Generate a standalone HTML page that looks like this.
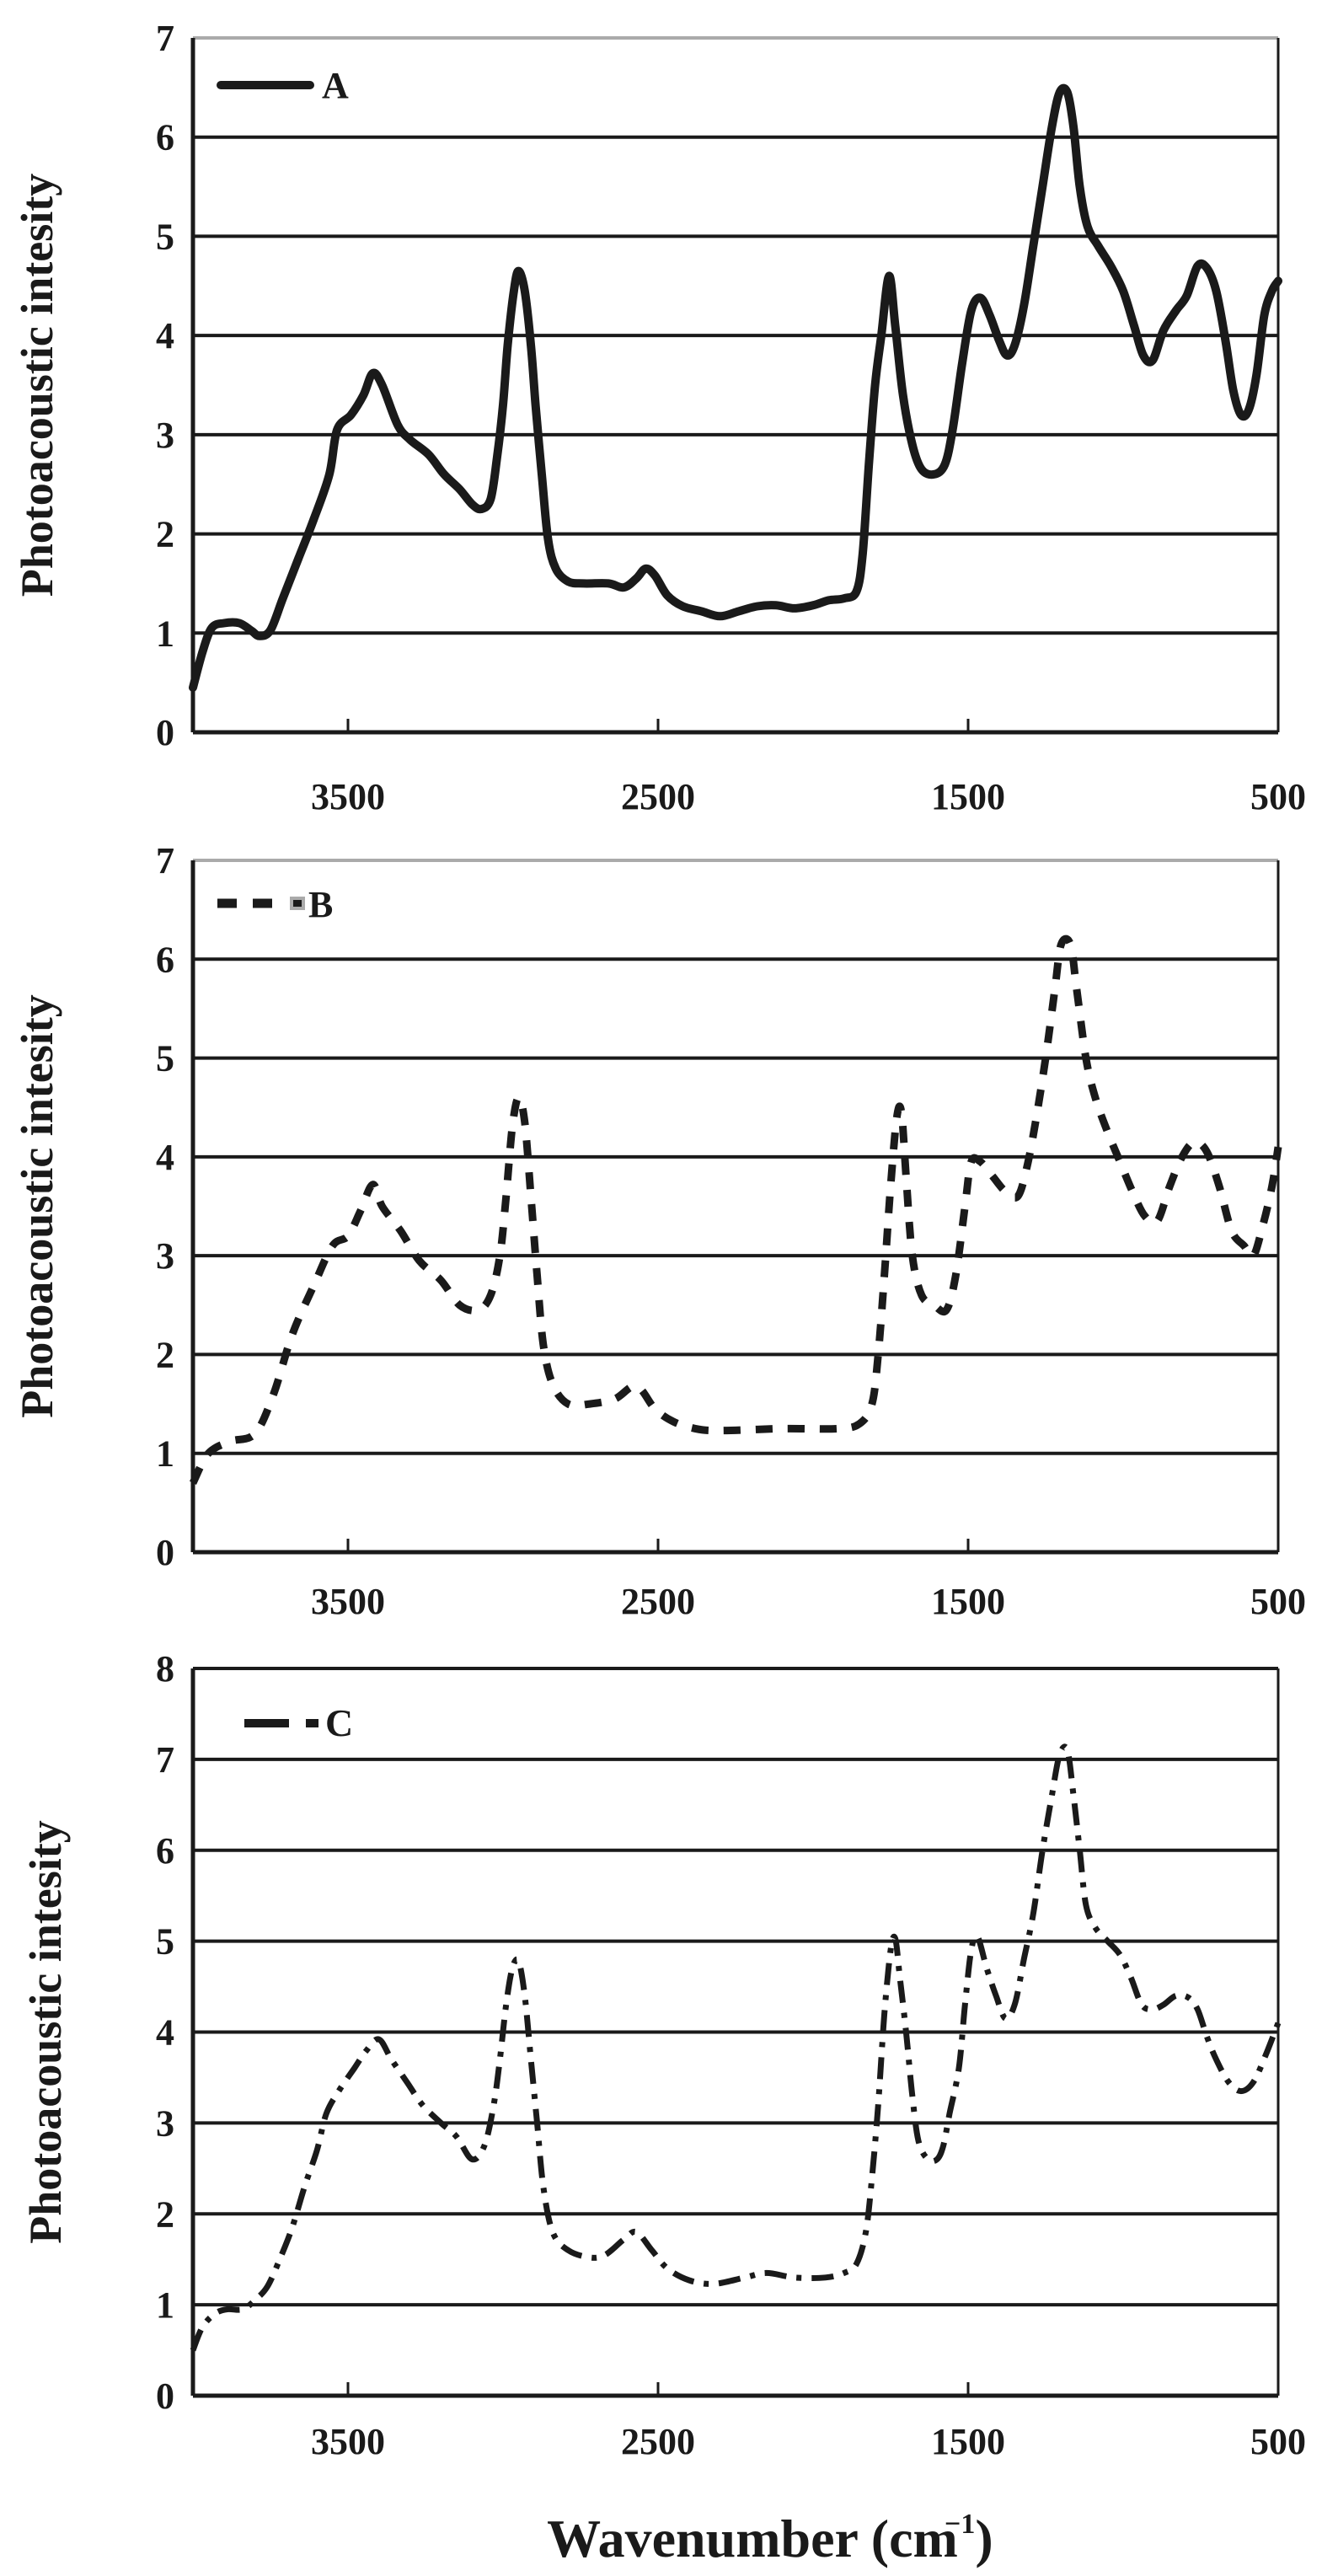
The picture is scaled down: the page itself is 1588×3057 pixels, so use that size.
<!DOCTYPE html>
<html><head><meta charset="utf-8"><style>
html,body{margin:0;padding:0;background:#fff;}
svg text{font-family:"Liberation Serif",serif;font-weight:bold;fill:#1a1a1a;}
</style></head><body>
<svg id="s" width="1588" height="3052" xmlns="http://www.w3.org/2000/svg">
<g id="g"></g>
</svg>
<script>
var NS="http://www.w3.org/2000/svg",g=document.getElementById('g');
function el(t,a,txt){var e=document.createElementNS(NS,t);for(var k in a)e.setAttribute(k,a[k]);if(txt!==undefined)e.textContent=txt;g.appendChild(e);return e;}
var L=229,R=1517;
function X(w){return L+(4000-w)/3500*(R-L);}
function path(pts,top,bot,max){
  var P=pts.map(function(p){return [X(p[0]),bot-(p[1]/max)*(bot-top)];});
  var d="M"+P[0][0].toFixed(1)+","+P[0][1].toFixed(1);
  for(var i=0;i<P.length-1;i++){
    var p0=P[i-1]||P[i],p1=P[i],p2=P[i+1],p3=P[i+2]||P[i+1];
    var c1=[p1[0]+(p2[0]-p0[0])/6,p1[1]+(p2[1]-p0[1])/6],c2=[p2[0]-(p3[0]-p1[0])/6,p2[1]-(p3[1]-p1[1])/6];
    d+=" C"+c1[0].toFixed(1)+","+c1[1].toFixed(1)+" "+c2[0].toFixed(1)+","+c2[1].toFixed(1)+" "+p2[0].toFixed(1)+","+p2[1].toFixed(1);
  }
  return d;
}
function chart(top,bot,max,ylx,lbly,topc){
  var u=(bot-top)/max;
  el('line',{x1:L,y1:top,x2:R,y2:top,stroke:topc,'stroke-width':4});
  for(var i=1;i<max;i++){var y=bot-i*u;el('line',{x1:L,y1:y,x2:R,y2:y,stroke:'#1a1a1a','stroke-width':4});}
  el('line',{x1:L,y1:top,x2:L,y2:bot,stroke:'#1a1a1a','stroke-width':5});
  el('line',{x1:L,y1:bot,x2:R,y2:bot,stroke:'#1a1a1a','stroke-width':5});
  el('line',{x1:R,y1:top,x2:R,y2:bot,stroke:'#1a1a1a','stroke-width':3});
  for(var i=0;i<=max;i++){el('text',{x:196,y:bot-i*u+15,'font-size':44,'text-anchor':'middle'},String(i));}
  [3500,2500,1500,500].forEach(function(w){var x=X(w);el('line',{x1:x,y1:bot,x2:x,y2:bot-16,stroke:'#1a1a1a','stroke-width':3});el('text',{x:x,y:lbly,'font-size':44,'text-anchor':'middle'},String(w));});
  var cy=(top+bot)/2;
  el('text',{x:ylx,y:cy,'font-size':54,'text-anchor':'middle',transform:'rotate(-90 '+ylx+' '+cy+')'},'Photoacoustic intesity');
}
var A=[[4000,0.45],[3970,0.8],[3940,1.05],[3900,1.1],[3850,1.1],[3810,1.02],[3785,0.97],[3750,1.03],[3710,1.35],[3660,1.75],[3610,2.15],[3560,2.6],[3535,3.05],[3490,3.2],[3450,3.4],[3420,3.62],[3390,3.5],[3340,3.1],[3300,2.95],[3240,2.8],[3190,2.6],[3140,2.45],[3100,2.3],[3070,2.25],[3040,2.35],[3020,2.75],[3000,3.3],[2985,3.9],[2965,4.45],[2950,4.65],[2930,4.45],[2910,3.9],[2895,3.3],[2875,2.6],[2855,1.95],[2830,1.65],[2790,1.52],[2740,1.5],[2660,1.5],[2610,1.46],[2570,1.55],[2540,1.65],[2510,1.58],[2470,1.38],[2420,1.27],[2360,1.22],[2300,1.17],[2240,1.22],[2180,1.27],[2120,1.28],[2060,1.25],[2000,1.28],[1950,1.33],[1900,1.35],[1860,1.42],[1840,1.8],[1820,2.7],[1800,3.5],[1780,4.0],[1755,4.6],[1735,4.1],[1710,3.4],[1680,2.9],[1650,2.65],[1610,2.6],[1575,2.7],[1550,3.05],[1520,3.7],[1490,4.25],[1460,4.38],[1430,4.2],[1400,3.95],[1375,3.8],[1350,3.9],[1320,4.3],[1290,4.9],[1260,5.5],[1230,6.1],[1205,6.45],[1180,6.45],[1160,6.1],[1140,5.5],[1115,5.1],[1080,4.9],[1040,4.7],[1000,4.45],[965,4.1],[935,3.8],[905,3.75],[870,4.05],[830,4.25],[795,4.4],[760,4.7],[730,4.68],[700,4.45],[670,3.95],[645,3.45],[620,3.2],[595,3.25],[570,3.6],[545,4.2],[520,4.45],[500,4.55]];
var B=[[4000,0.7],[3950,1.0],[3880,1.12],[3800,1.2],[3740,1.6],[3680,2.2],[3610,2.7],[3550,3.1],[3500,3.2],[3460,3.45],[3420,3.72],[3390,3.5],[3330,3.25],[3270,2.95],[3200,2.75],[3140,2.5],[3080,2.45],[3040,2.6],[3010,3.0],[2990,3.6],[2970,4.3],[2950,4.6],[2930,4.35],[2910,3.6],[2890,2.8],[2870,2.1],[2840,1.7],[2790,1.5],[2720,1.5],[2640,1.55],[2570,1.68],[2510,1.45],[2450,1.32],[2380,1.25],[2300,1.23],[2100,1.25],[1920,1.25],[1850,1.3],[1810,1.5],[1790,2.0],[1770,2.8],[1750,3.7],[1730,4.4],[1715,4.45],[1700,3.8],[1680,3.0],[1650,2.6],[1610,2.5],[1570,2.45],[1540,2.8],[1510,3.5],[1490,3.95],[1460,3.95],[1420,3.8],[1380,3.65],[1340,3.6],[1310,3.9],[1280,4.4],[1250,5.0],[1220,5.7],[1200,6.15],[1170,6.15],[1150,5.7],[1120,5.0],[1090,4.6],[1050,4.25],[1010,3.95],[970,3.65],[930,3.4],[890,3.35],[850,3.7],[810,4.0],[770,4.15],[730,4.05],[690,3.7],[650,3.25],[610,3.1],[580,3.0],[550,3.3],[520,3.7],[500,4.1]];
var C=[[4000,0.5],[3970,0.75],[3930,0.9],[3890,0.95],[3840,0.95],[3800,1.05],[3760,1.2],[3720,1.5],[3680,1.85],[3640,2.3],[3600,2.7],[3570,3.1],[3530,3.35],[3480,3.6],[3440,3.8],[3400,3.92],[3360,3.7],[3310,3.45],[3260,3.2],[3200,3.0],[3150,2.85],[3100,2.6],[3060,2.75],[3030,3.2],[3010,3.7],[2990,4.3],[2970,4.7],[2950,4.78],[2930,4.4],[2910,3.7],[2890,3.0],[2870,2.3],[2840,1.8],[2790,1.6],[2720,1.52],[2670,1.55],[2610,1.72],[2570,1.8],[2520,1.6],[2470,1.4],[2400,1.27],[2320,1.23],[2220,1.3],[2150,1.35],[2060,1.3],[1960,1.3],[1900,1.35],[1860,1.45],[1830,1.8],[1810,2.4],[1790,3.2],[1770,4.2],[1750,4.9],[1735,5.03],[1720,4.6],[1700,4.0],[1680,3.3],[1660,2.8],[1630,2.6],[1600,2.6],[1580,2.75],[1560,3.1],[1530,3.6],[1510,4.3],[1490,4.9],[1470,5.05],[1440,4.7],[1410,4.4],[1380,4.15],[1350,4.3],[1320,4.8],[1290,5.3],[1260,6.0],[1230,6.6],[1205,7.05],[1180,7.1],[1160,6.6],[1140,6.0],[1120,5.4],[1090,5.15],[1050,5.0],[1010,4.85],[975,4.6],[940,4.3],[905,4.25],[870,4.3],[830,4.4],[790,4.38],[760,4.25],[730,3.95],[700,3.7],[660,3.45],[620,3.35],[580,3.45],[540,3.75],[500,4.1]];
// Chart A
chart(45,869,7,62,960,'#aaa');
el('path',{d:path(A,45,869,7),fill:'none',stroke:'#1a1a1a','stroke-width':10,'stroke-linejoin':'round','stroke-linecap':'round'});
el('line',{x1:262,y1:101,x2:368,y2:101,stroke:'#1a1a1a','stroke-width':10,'stroke-linecap':'round'});
el('text',{x:382,y:116,'font-size':44},'A');
// Chart B
chart(1021,1842,7,62,1915,'#aaa');
el('path',{d:path(B,1021,1842,7),fill:'none',stroke:'#1a1a1a','stroke-width':9,'stroke-dasharray':'20 18'});
el('line',{x1:258,y1:1072,x2:281,y2:1072,stroke:'#1a1a1a','stroke-width':11});
el('line',{x1:300,y1:1072,x2:323,y2:1072,stroke:'#1a1a1a','stroke-width':11});
el('rect',{x:346,y:1066,width:14,height:12,fill:'#1a1a1a',stroke:'#aaa','stroke-width':4});
el('text',{x:366,y:1088,'font-size':44},'B');
// Chart C
chart(1980,2843,8,72,2912,'#1a1a1a');
el('path',{d:path(C,1980,2843,8),fill:'none',stroke:'#1a1a1a','stroke-width':7,'stroke-dasharray':'26 12 6 12'});
el('line',{x1:290,y1:2045,x2:343,y2:2045,stroke:'#1a1a1a','stroke-width':10});
el('line',{x1:363,y1:2045,x2:378,y2:2045,stroke:'#1a1a1a','stroke-width':10});
el('text',{x:386,y:2060,'font-size':46,'font-weight':'normal'},'C');
el('text',{x:893,y:3034,'font-size':64,'text-anchor':'middle'},'Wavenumber (cm');
var t=el('text',{x:1121,y:3034,'font-size':64},'');
var s1=document.createElementNS(NS,'tspan');s1.setAttribute('font-size','34');s1.setAttribute('dy','-28');s1.textContent='\u22121';t.appendChild(s1);
var s2=document.createElementNS(NS,'tspan');s2.setAttribute('dy','28');s2.textContent=')';t.appendChild(s2);
</script>
</body></html>
